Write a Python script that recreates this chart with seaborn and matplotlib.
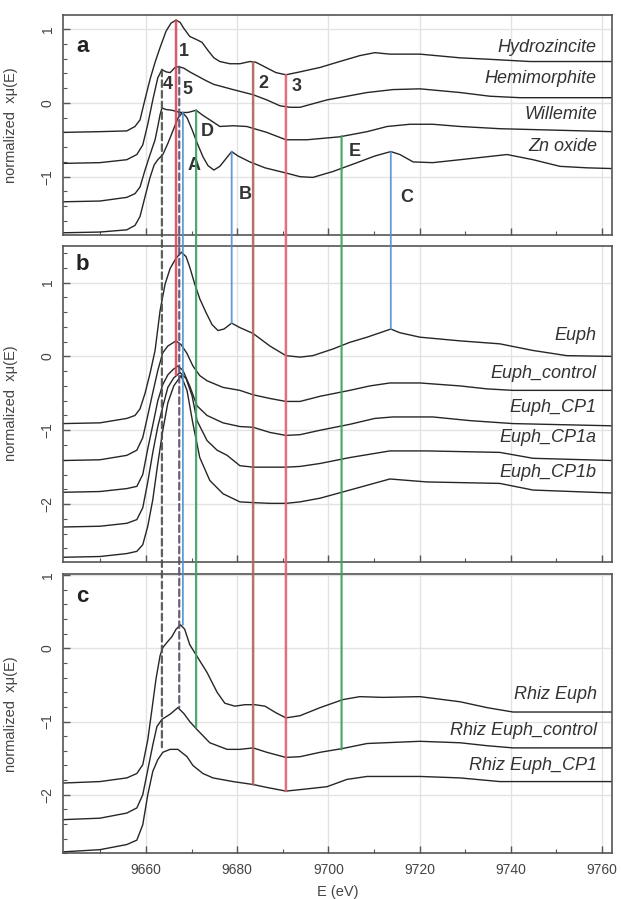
import numpy as np
import pandas as pd
import matplotlib.pyplot as plt
import seaborn as sns
from matplotlib.patches import ConnectionPatch
from matplotlib.ticker import MultipleLocator

# ==========================
# data
# ==========================

# panel a - reference compounds
hydro_e = [9641.8, 9649.9, 9655.8, 9657.6, 9658.7, 9659.8, 9660.9, 9662.0, 9663.1, 9664.4,
           9665.5, 9666.6, 9667.5, 9668.3, 9669.6, 9671.0, 9672.3, 9673.6, 9674.9, 9676.2,
           9678.4, 9680.6, 9682.8, 9684.1, 9686.3, 9688.5, 9690.7, 9693.8, 9698.2, 9702.5,
           9706.9, 9710.2, 9713.5, 9720.1, 9728.9, 9735.4, 9744.2, 9762.2]
hydro_mu = [-0.40, -0.39, -0.38, -0.32, -0.23, 0.05, 0.32, 0.55, 0.75, 0.97,
            1.08, 1.12, 1.09, 1.01, 0.90, 0.86, 0.82, 0.71, 0.61, 0.56,
            0.53, 0.53, 0.56, 0.55, 0.48, 0.41, 0.38, 0.42, 0.48, 0.56,
            0.64, 0.68, 0.66, 0.66, 0.61, 0.59, 0.56, 0.56]

hemi_e = [9641.8, 9649.9, 9655.8, 9658.0, 9659.3, 9660.4, 9661.5, 9662.6, 9663.5, 9664.4,
          9665.3, 9666.4, 9667.2, 9668.3, 9669.6, 9671.4, 9673.2, 9674.9, 9679.1, 9683.5,
          9686.5, 9689.4, 9691.6, 9693.8, 9699.7, 9708.5, 9714.2, 9720.1, 9728.9, 9735.4,
          9742.0, 9762.2]
hemi_mu = [-0.82, -0.81, -0.77, -0.70, -0.57, -0.29, 0.04, 0.34, 0.45, 0.42,
           0.41, 0.48, 0.49, 0.47, 0.42, 0.36, 0.30, 0.25, 0.18, 0.11,
           0.04, -0.04, -0.06, -0.06, 0.04, 0.14, 0.18, 0.19, 0.14, 0.09,
           0.07, 0.07]

will_e = [9641.8, 9649.9, 9655.8, 9657.6, 9658.7, 9659.8, 9660.9, 9662.0, 9662.6, 9663.1,
          9663.5, 9664.4, 9665.7, 9667.5, 9669.2, 9671.0, 9672.5, 9674.5, 9676.2, 9679.1,
          9682.1, 9686.5, 9690.7, 9695.3, 9702.5, 9708.5, 9712.9, 9717.9, 9722.9, 9728.9,
          9737.6, 9762.2]
will_mu = [-1.34, -1.33, -1.28, -1.23, -1.14, -0.91, -0.70, -0.50, -0.32, -0.16,
           -0.07, -0.09, -0.10, -0.13, -0.13, -0.10, -0.17, -0.25, -0.32, -0.31,
           -0.32, -0.40, -0.50, -0.50, -0.46, -0.39, -0.32, -0.29, -0.29, -0.32,
           -0.35, -0.39]

zno_e = [9641.8, 9649.9, 9655.8, 9657.6, 9658.7, 9659.8, 9660.9, 9661.8, 9662.6, 9663.7,
         9664.8, 9665.9, 9667.0, 9668.0, 9669.0, 9670.1, 9671.2, 9672.5, 9673.6, 9674.9,
         9676.2, 9677.5, 9678.8, 9680.2, 9682.8, 9686.1, 9690.7, 9693.8, 9696.6, 9701.0,
         9706.3, 9710.2, 9713.7, 9715.7, 9718.6, 9722.9, 9728.9, 9734.8, 9739.2, 9744.9,
         9750.8, 9756.7, 9762.2]
zno_mu = [-1.76, -1.75, -1.72, -1.66, -1.54, -1.27, -1.01, -0.84, -0.77, -0.70,
          -0.55, -0.38, -0.21, -0.13, -0.20, -0.36, -0.54, -0.73, -0.85, -0.91,
          -0.86, -0.76, -0.66, -0.72, -0.80, -0.88, -0.95, -1.00, -1.01, -0.93,
          -0.81, -0.72, -0.66, -0.70, -0.80, -0.81, -0.77, -0.73, -0.70, -0.77,
          -0.86, -0.88, -0.89]

# panel b - Euphorbia samples
euph_e = [9641.8, 9649.9, 9655.8, 9657.6, 9658.7, 9659.8, 9660.9, 9662.0, 9663.1, 9664.2,
          9665.3, 9666.6, 9667.8, 9668.8, 9669.6, 9670.7, 9671.8, 9673.2, 9674.5, 9675.8,
          9677.1, 9678.8, 9680.6, 9683.5, 9687.2, 9690.7, 9693.8, 9696.6, 9701.0, 9704.7,
          9708.5, 9713.7, 9715.7, 9720.1, 9728.9, 9737.6, 9744.9, 9752.3, 9762.2]
euph_mu = [-0.91, -0.90, -0.84, -0.80, -0.71, -0.50, -0.23, 0.08, 0.62, 0.98,
           1.19, 1.33, 1.41, 1.35, 1.21, 0.98, 0.78, 0.59, 0.43, 0.35,
           0.37, 0.45, 0.39, 0.31, 0.14, 0.01, -0.01, 0.01, 0.10, 0.19,
           0.26, 0.37, 0.32, 0.26, 0.21, 0.17, 0.08, 0.01, 0.00]

ectl_e = [9641.8, 9649.9, 9655.8, 9658.0, 9659.3, 9660.4, 9661.5, 9662.6, 9663.7, 9664.8,
          9666.6, 9667.7, 9669.0, 9670.3, 9671.8, 9673.4, 9676.9, 9680.6, 9683.5, 9687.2,
          9690.7, 9693.8, 9698.2, 9704.7, 9709.1, 9713.5, 9720.1, 9728.9, 9734.8, 9740.5,
          9762.2]
ectl_mu = [-1.41, -1.40, -1.34, -1.27, -1.10, -0.80, -0.49, -0.19, 0.05, 0.14,
           0.21, 0.16, 0.04, -0.13, -0.26, -0.33, -0.42, -0.46, -0.52, -0.57,
           -0.61, -0.61, -0.54, -0.46, -0.40, -0.36, -0.36, -0.40, -0.44, -0.46,
           -0.46]

ecp1_e = [9641.8, 9649.9, 9655.8, 9658.0, 9659.3, 9660.4, 9661.5, 9662.6, 9663.7, 9664.8,
          9665.9, 9667.0, 9668.1, 9669.6, 9671.2, 9673.4, 9676.9, 9680.6, 9683.5, 9687.2,
          9690.7, 9693.8, 9698.2, 9704.7, 9710.2, 9714.2, 9722.9, 9731.1, 9740.5, 9762.2]
ecp1_mu = [-1.84, -1.83, -1.79, -1.76, -1.60, -1.25, -0.93, -0.60, -0.38, -0.25,
           -0.18, -0.13, -0.19, -0.40, -0.67, -0.80, -0.90, -0.95, -0.96, -1.03,
           -1.07, -1.06, -1.00, -0.92, -0.84, -0.82, -0.82, -0.87, -0.91, -0.94]

ecp1a_e = [9641.8, 9649.9, 9655.8, 9658.0, 9659.3, 9660.4, 9661.5, 9662.6, 9663.7, 9664.8,
           9666.1, 9667.5, 9668.8, 9670.1, 9671.2, 9673.4, 9675.6, 9677.8, 9680.6, 9683.5,
           9687.2, 9690.7, 9693.8, 9698.2, 9704.7, 9713.5, 9721.6, 9737.6, 9744.9, 9762.2]
ecp1a_mu = [-2.31, -2.30, -2.26, -2.21, -2.05, -1.70, -1.30, -0.95, -0.68, -0.42,
            -0.29, -0.22, -0.30, -0.53, -0.87, -1.14, -1.27, -1.34, -1.48, -1.50,
            -1.50, -1.50, -1.49, -1.45, -1.37, -1.28, -1.28, -1.30, -1.38, -1.41]

ecp1b_e = [9641.8, 9649.9, 9655.8, 9658.0, 9659.3, 9660.4, 9661.5, 9662.6, 9663.7, 9664.8,
           9666.1, 9667.7, 9669.0, 9670.3, 9671.8, 9674.0, 9676.9, 9680.6, 9683.5, 9687.2,
           9690.7, 9693.8, 9698.2, 9704.7, 9713.5, 9721.6, 9737.6, 9744.9, 9762.2]
ecp1b_mu = [-2.72, -2.71, -2.67, -2.64, -2.55, -2.30, -1.94, -1.45, -1.00, -0.63,
            -0.40, -0.26, -0.46, -0.91, -1.37, -1.68, -1.86, -1.97, -1.98, -1.99,
            -1.99, -1.97, -1.92, -1.81, -1.66, -1.70, -1.72, -1.81, -1.85]

# panel c - rhizosphere samples
rhiz_e = [9641.8, 9649.9, 9655.8, 9658.0, 9659.3, 9660.4, 9661.3, 9662.2, 9663.1, 9663.7,
          9664.6, 9665.7, 9666.6, 9667.6, 9668.5, 9669.6, 9671.2, 9673.4, 9675.6, 9677.3,
          9679.5, 9681.7, 9683.9, 9686.1, 9688.5, 9690.7, 9693.8, 9698.2, 9703.2, 9706.9,
          9712.0, 9720.1, 9728.9, 9734.8, 9740.5, 9762.2]
rhiz_mu = [-1.84, -1.82, -1.77, -1.71, -1.59, -1.25, -0.84, -0.42, -0.10, 0.01,
           0.08, 0.16, 0.26, 0.32, 0.26, 0.05, -0.11, -0.33, -0.60, -0.75,
           -0.79, -0.77, -0.77, -0.79, -0.88, -0.95, -0.92, -0.81, -0.70, -0.66,
           -0.67, -0.66, -0.73, -0.81, -0.87, -0.87]

rctl_e = [9641.8, 9649.9, 9655.8, 9658.0, 9659.3, 9660.4, 9661.5, 9662.4, 9663.5, 9665.3,
          9667.0, 9668.3, 9669.6, 9671.2, 9674.0, 9677.8, 9680.6, 9683.5, 9686.5, 9690.7,
          9693.8, 9698.2, 9703.0, 9708.5, 9720.1, 9728.9, 9734.8, 9740.5, 9762.2]
rctl_mu = [-2.34, -2.32, -2.25, -2.18, -2.00, -1.66, -1.32, -1.07, -0.97, -0.90,
           -0.81, -0.89, -1.00, -1.11, -1.29, -1.38, -1.38, -1.36, -1.42, -1.49,
           -1.48, -1.42, -1.37, -1.30, -1.27, -1.29, -1.33, -1.36, -1.36]

rcp1_e = [9641.8, 9649.9, 9655.8, 9658.0, 9659.3, 9660.4, 9661.5, 9662.6, 9663.7, 9665.3,
          9667.0, 9669.0, 9670.3, 9672.5, 9674.7, 9679.1, 9683.5, 9686.5, 9690.7, 9693.8,
          9699.7, 9704.1, 9708.5, 9720.1, 9728.9, 9737.6, 9762.2]
rcp1_mu = [-2.78, -2.75, -2.68, -2.62, -2.41, -2.00, -1.68, -1.52, -1.42, -1.38,
           -1.38, -1.48, -1.60, -1.71, -1.77, -1.82, -1.86, -1.90, -1.95, -1.93,
           -1.89, -1.79, -1.75, -1.75, -1.77, -1.82, -1.82]

names_a = ["Hydrozincite", "Hemimorphite", "Willemite", "Zn oxide"]
names_b = ["Euph", "Euph_control", "Euph_CP1", "Euph_CP1a", "Euph_CP1b"]
names_c = ["Rhiz Euph", "Rhiz Euph_control", "Rhiz Euph_CP1"]
label_y_a = [0.75, 0.33, -0.16, -0.59]
label_y_b = [0.28, -0.23, -0.69, -1.10, -1.57]
label_y_c = [-0.63, -1.12, -1.60]

# feature markers (energy, top in panel a, end panel, end value)
marker_e = [9663.5, 9667.3, 9666.6, 9668.1, 9671.0, 9678.8, 9683.5, 9690.7, 9702.9, 9713.7]
marker_top = [0.45, 0.49, 1.12, -0.13, -0.10, -0.66, 0.55, 0.38, -0.45, -0.66]
marker_end_panel = ["c", "c", "b", "c", "c", "b", "c", "c", "c", "b"]
marker_end = [-1.35, -0.81, -0.25, 0.32, -1.08, 0.45, -1.86, -1.95, -1.38, 0.37]
marker_color = ["#4d4d4d", "#5a4d6e", "#d64a5a", "#4e90d2", "#3f9d62",
                "#4e90d2", "#b2625a", "#e2606e", "#3f9d62", "#4e90d2"]
marker_ls = ["--", "--", "-", "-", "-", "-", "-", "-", "-", "-"]
marker_lw = [1.6, 1.6, 1.8, 1.3, 1.6, 1.3, 1.8, 1.8, 1.6, 1.3]

peak_text = ["1", "2", "3", "4", "5", "A", "B", "C", "D", "E"]
peak_e = [9668.3, 9685.7, 9693.1, 9664.8, 9669.2, 9670.5, 9681.7, 9717.2, 9673.4, 9705.8]
peak_y = [0.70, 0.26, 0.22, 0.25, 0.18, -0.85, -1.24, -1.28, -0.39, -0.66]

# ==========================
# build tables
# ==========================

def make_df(names, es, mus):
    rows = []
    for n, e, m in zip(names, es, mus):
        rows.append(pd.DataFrame({"E": e, "mu": m, "sample": n}))
    return pd.concat(rows, ignore_index=True)

df_a = make_df(names_a, [hydro_e, hemi_e, will_e, zno_e], [hydro_mu, hemi_mu, will_mu, zno_mu])
df_b = make_df(names_b, [euph_e, ectl_e, ecp1_e, ecp1a_e, ecp1b_e],
               [euph_mu, ectl_mu, ecp1_mu, ecp1a_mu, ecp1b_mu])
df_c = make_df(names_c, [rhiz_e, rctl_e, rcp1_e], [rhiz_mu, rctl_mu, rcp1_mu])

# ==========================
# figure
# ==========================

sns.set_theme(style="ticks")
plt.rcParams['font.family'] = ['Liberation Sans', 'DejaVu Sans']

fig = plt.figure(figsize=(6.21, 8.99), dpi=100)
left, width = 0.1014, 0.884
ax_a = fig.add_axes([left, 0.7386, width, 0.2447])
ax_b = fig.add_axes([left, 0.3752, width, 0.3516])
ax_c = fig.add_axes([left, 0.0508, width, 0.3103])
axes = {"a": ax_a, "b": ax_b, "c": ax_c}

panels = [(ax_a, df_a, names_a, label_y_a, (-1.79, 1.19), "a", 0.76),
          (ax_b, df_b, names_b, label_y_b, (-2.78, 1.50), "b", 1.25),
          (ax_c, df_c, names_c, label_y_c, (-2.80, 1.01), "c", 0.71)]

for ax, df, names, ly, ylim, letter, letter_y in panels:
    sns.lineplot(data=df, x="E", y="mu", units="sample", estimator=None, sort=False,
                 color="#262626", lw=1.0, ax=ax)
    ax.set_xlim(9641.8, 9762.2)
    ax.set_ylim(*ylim)
    ax.xaxis.set_major_locator(MultipleLocator(20))
    ax.xaxis.set_minor_locator(MultipleLocator(10))
    ax.yaxis.set_major_locator(MultipleLocator(1))
    ax.yaxis.set_minor_locator(MultipleLocator(0.2))
    ax.grid(True, which="major", color="#e3e3e3", lw=1.0)
    ax.set_axisbelow(True)
    ax.tick_params(which="both", direction="in", colors="#555555", labelcolor="#444444",
                   labelsize=10, top=False, right=False)
    ax.tick_params(which="major", length=5, width=1)
    ax.tick_params(which="minor", length=3, width=0.8)
    ax.tick_params(axis="y", labelrotation=90, pad=6)
    plt.setp(ax.get_yticklabels(), va="center")
    for s in ax.spines.values():
        s.set_color("#555555")
        s.set_linewidth(1.2)
    ax.set_ylabel("normalized  xμ(E)", fontsize=10.5, color="#444444")
    ax.yaxis.set_label_coords(-0.082, 0.5)
    ax.set_xlabel("")
    for n, y in zip(names, ly):
        ax.text(9758.9, y, n, ha="right", va="center", fontsize=13,
                style="italic", color="#333333")
    ax.text(9646.0, letter_y, letter, ha="center", va="center", fontsize=16,
            fontweight="bold", color="#222222")

ax_a.tick_params(labelbottom=False)
ax_b.tick_params(labelbottom=False)
ax_c.tick_params(axis="x", pad=7)
ax_c.set_xlabel("E (eV)", fontsize=10.5, color="#444444", labelpad=6)

# peak labels in panel a
for t, e, y in zip(peak_text, peak_e, peak_y):
    ax_a.text(e, y, t, ha="center", va="center", fontsize=13, fontweight="bold",
              color="#333333")

# vertical feature lines running across panels
for e, yt, pe, ye, c, ls, lw in zip(marker_e, marker_top, marker_end_panel, marker_end,
                                    marker_color, marker_ls, marker_lw):
    style = (0, (3.0, 1.8)) if ls == "--" else "-"
    con = ConnectionPatch(xyA=(e, yt), coordsA=ax_a.transData,
                          xyB=(e, ye), coordsB=axes[pe].transData,
                          color=c, lw=lw, linestyle=style, alpha=0.9)
    fig.add_artist(con)

fig.savefig("out.png", dpi=100)
